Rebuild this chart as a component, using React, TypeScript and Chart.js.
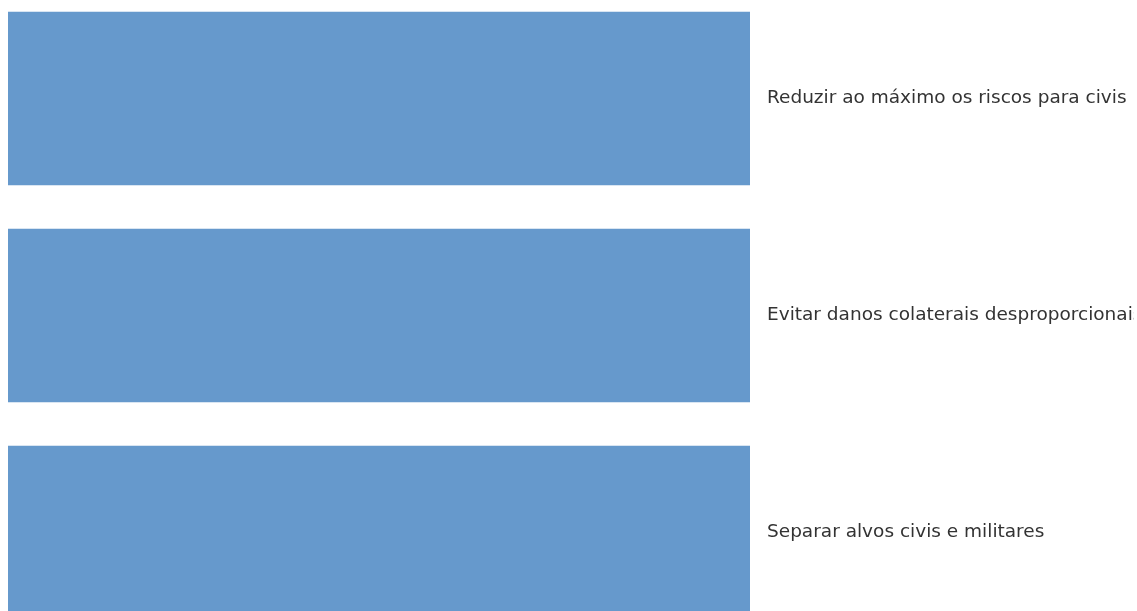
import React, { useEffect, useRef } from "react";
import { Chart, registerables } from "chart.js";

Chart.register(...registerables);

const categories: string[] = [
  "Reduzir ao máximo os riscos para civis",
  "Evitar danos colaterais desproporcionais",
  "Separar alvos civis e militares",
];
const values: number[] = [100, 100, 100];
const barColor = "#6699cc";

export default function App() {
  const ref = useRef<HTMLCanvasElement | null>(null);
  useEffect(() => {
    if (!ref.current) return;
    const chart = new Chart(ref.current, {
      type: "bar",
      data: {
        datasets: [
          {
            data: values.map((v, i) => ({ x: v, y: i })),
            backgroundColor: barColor,
            borderWidth: 0,
            categoryPercentage: 0.8,
            barPercentage: 1.0,
          },
        ],
      },
      options: {
        indexAxis: "y",
        animation: false,
        responsive: true,
        maintainAspectRatio: false,
        layout: { padding: { left: 8, top: 0, right: 0, bottom: 0 } },
        plugins: { legend: { display: false }, tooltip: { enabled: false } },
        scales: {
          x: {
            type: "linear",
            display: false,
            min: 0,
            max: 100,
          },
          y: {
            type: "linear",
            position: "right",
            reverse: true,
            offset: false,
            min: -0.4539,
            max: 2.3618,
            grid: { display: false, drawTicks: false },
            border: { display: false },
            afterBuildTicks: (scale: any) => {
              scale.ticks = categories.map((_, i) => ({ value: i }));
            },
            afterFit: (scale: any) => {
              scale.width = 384;
              scale.paddingTop = 0;
              scale.paddingBottom = 0;
            },
            ticks: {
              padding: 17,
              color: "#333333",
              font: { family: "'DejaVu Sans', sans-serif", size: 18.5 },
              callback: (v: any) => categories[Number(v)] ?? "",
            },
          },
        },
      },
    });
    return () => chart.destroy();
  }, []);
  return (
    <div style={{ position: "fixed", left: 0, top: 0, width: 1134, height: 611 }}>
      <canvas ref={ref} />
    </div>
  );
}
